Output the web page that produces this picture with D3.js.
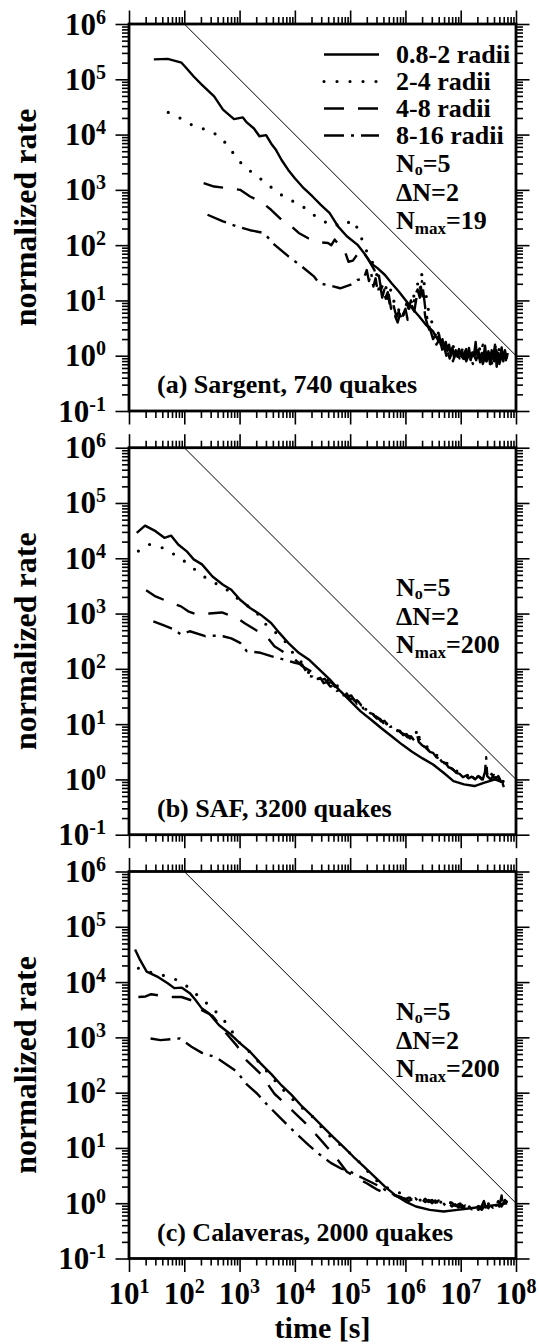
<!DOCTYPE html>
<html><head><meta charset="utf-8">
<script src="https://cdn.jsdelivr.net/npm/d3@7"></script>
<style>
body{margin:0;background:#fff}
svg{display:block}
text{font-family:"Liberation Serif","Times New Roman",Times,serif;font-weight:bold;fill:#000}
</style>
</head><body>
<svg id="chart" width="539" height="1344" font-family="Liberation Serif" font-weight="bold"></svg>
<script>
// ---------- DATA ----------
// each series point: [log10(time in s), log10(normalized rate)]
const timeExponents = [1,2,3,4,5,6,7,8];
const rateExponents = [-1,0,1,2,3,4,5,6];
const seriesNames = ["0.8-2 radii","2-4 radii","4-8 radii","8-16 radii"];
const panelTitles = ["(a) Sargent, 740 quakes","(b) SAF, 3200 quakes","(c) Calaveras, 2000 quakes"];
const paramN0 = [5,5,5];
const paramDN = [2,2,2];
const paramNmax = [19,200,200];
const referenceLine = [[1e2,1e6],[1e8,1e0]]; // rate ~ 1/t guide

// (a) Sargent
const sargent_08_2 = [[1.45,5.36],[1.70,5.37],[1.95,5.30],[2.04,5.20],[2.17,5.05],[2.32,4.90],[2.54,4.69],[2.70,4.45],[2.90,4.28],[3.06,4.31],[3.13,4.22],[3.26,4.11],[3.36,3.97],[3.48,3.99],[3.57,3.84],[3.66,3.72],[3.76,3.54],[3.88,3.36],[4.00,3.21],[4.16,3.03],[4.32,2.88],[4.47,2.73],[4.63,2.58],[4.78,2.34],[4.94,2.16],[5.13,2.01],[5.25,1.86],[5.38,1.67],[5.50,1.58],[5.63,1.46],[5.75,1.31],[5.88,1.16],[6.00,1.01],[6.12,0.86],[6.25,0.71],[6.37,0.56],[6.50,0.44],
[6.54,0.36],[6.58,0.30],[6.61,0.38],[6.64,0.20],[6.67,0.30],[6.70,0.12],[6.73,0.25],[6.76,0.08],[6.79,0.20],[6.82,0.02],[6.85,0.15],[6.88,-0.04],[6.91,0.10],[6.94,-0.02],[6.97,0.12],[7.00,0.00],[7.03,0.08],[7.06,-0.06],[7.09,0.10],[7.12,-0.02],[7.15,0.14],[7.18,-0.08],[7.21,0.06],[7.24,0.00],[7.27,0.25],[7.29,0.02],[7.32,0.10],[7.35,-0.12],[7.38,0.05],[7.41,-0.05],[7.44,0.18],[7.47,-0.10],[7.50,0.08],[7.53,-0.15],[7.56,0.10],[7.59,-0.05],[7.62,0.20],[7.65,-0.20],[7.68,0.05],[7.71,-0.08],[7.74,0.15],[7.77,-0.10],[7.80,0.10],[7.83,-0.05],[7.85,0.05]];
const sargent_2_4 = [[1.71,4.40],[1.96,4.28],[2.21,4.13],[2.46,4.08],[2.68,3.93],[2.85,3.71],[3.03,3.48],[3.24,3.30],[3.46,3.14],[3.64,2.99],[3.87,2.83],[4.08,2.75],[4.29,2.58],[4.49,2.45],[4.70,2.34],[4.80,2.38],[4.88,2.43],[4.96,2.40],[5.02,2.46],[5.10,2.35],[5.16,2.28],[5.25,1.98],[5.35,1.80],[5.44,1.61],
[5.50,1.40],[5.56,1.25],[5.62,1.35],[5.68,1.10],[5.74,1.20],[5.80,0.95],[5.86,0.80],[5.92,0.90],[5.98,0.70],[6.04,0.80],[6.10,0.95],[6.16,1.10],[6.22,1.30],[6.26,1.15],[6.30,1.50],[6.34,1.30],[6.38,1.05],[6.42,0.80],[6.48,0.60],[6.54,0.50],[6.60,0.40],[6.66,0.20],[6.72,0.30],[6.78,0.15],[6.84,0.25],[6.90,0.05],[6.96,0.12],[7.02,-0.05],[7.08,0.10],[7.14,0.00],[7.20,0.15],[7.26,-0.02],[7.32,0.08],[7.38,0.20],[7.44,0.00],[7.50,0.10],[7.56,-0.10],[7.62,0.05],[7.68,0.15],[7.74,-0.05],[7.80,0.10],[7.84,0.00]];
const sargent_4_8 = [[2.35,3.12],[2.54,3.06],[2.80,3.03],[3.01,3.00],[3.19,2.88],[3.38,2.79],[3.57,2.64],[3.76,2.46],[3.94,2.34],[4.07,2.22],[4.25,2.12],[4.44,2.05],[4.60,2.04],[4.66,2.00],[4.72,2.10],[4.82,1.98],[4.90,1.90],[4.97,1.70],[5.05,1.72],[5.13,1.83],[5.19,1.93],[5.31,1.77],[5.44,1.55],
[5.48,1.35],[5.52,1.45],[5.56,1.20],[5.60,1.30],[5.64,1.05],[5.68,1.15],[5.72,0.90],[5.76,1.00],[5.80,0.85],[5.84,0.70],[5.88,0.80],[5.92,0.60],[5.96,0.75],[6.00,0.85],[6.04,0.65],[6.08,0.75],[6.12,0.90],[6.16,0.80],[6.20,1.05],[6.24,0.95],[6.28,1.25],[6.32,1.00],[6.36,0.70],[6.40,0.55],[6.44,0.45],[6.50,0.35],[6.56,0.20],[6.62,0.30],[6.68,0.05],[6.74,0.15],[6.80,-0.05],[6.86,0.10],[6.92,-0.10],[6.98,0.05],[7.04,-0.05],[7.10,0.12],[7.16,-0.12],[7.22,0.05],[7.28,-0.08],[7.34,0.10],[7.40,-0.15],[7.46,0.05],[7.52,-0.20],[7.58,0.00],[7.64,0.20],[7.70,-0.15],[7.76,0.05],[7.82,-0.10]];
const sargent_8_16 = [[2.42,2.55],[2.70,2.43],[2.95,2.34],[3.19,2.27],[3.44,2.22],[3.63,2.01],[3.88,1.80],[4.13,1.61],[4.35,1.43],[4.44,1.31],[4.63,1.27],[4.82,1.22],[5.00,1.28],[5.13,1.37],[5.25,1.40],
[5.30,1.55],[5.34,1.35],[5.38,1.50],[5.42,1.25],[5.46,1.40],[5.50,1.15],[5.54,1.30],[5.58,1.05],[5.62,1.20],[5.66,0.95],[5.70,1.10],[5.74,0.85],[5.78,0.95],[5.82,0.70],[5.86,0.60],[5.90,0.75],[5.94,0.65],[5.98,0.80],[6.02,0.95],[6.06,0.85],[6.10,1.00],[6.14,0.90],[6.18,1.10],[6.22,1.20],[6.26,1.05],[6.30,1.35],[6.33,1.10],[6.36,0.85],[6.40,0.65],[6.44,0.50],[6.50,0.30],[6.56,0.40],[6.62,0.15],[6.68,0.25],[6.74,0.00],[6.80,0.12],[6.86,-0.10],[6.92,0.08],[6.98,-0.05],[7.04,0.15],[7.10,-0.10],[7.16,0.05],[7.22,-0.15],[7.28,0.10],[7.34,-0.05],[7.40,0.20],[7.46,-0.10],[7.52,0.05],[7.58,-0.20],[7.64,0.10],[7.70,-0.05],[7.76,0.15],[7.82,-0.10]];

// (b) SAF
const saf_08_2 = [[1.14,4.46],[1.29,4.59],[1.48,4.49],[1.64,4.37],[1.76,4.41],[1.89,4.25],[2.04,4.13],[2.17,3.98],[2.32,3.89],[2.51,3.67],[2.70,3.52],[2.85,3.43],[3.01,3.25],[3.19,3.10],[3.38,2.98],[3.57,2.83],[3.72,2.65],[3.88,2.47],[4.07,2.29],[4.25,2.17],[4.44,1.99],[4.63,1.81],[4.82,1.60],[5.00,1.42],[5.19,1.23],[5.38,1.08],[5.56,0.93],[5.75,0.78],[5.94,0.63],[6.12,0.50],[6.31,0.38],[6.50,0.27],[6.69,0.12],[6.87,-0.03],[7.06,-0.09],[7.25,-0.12],[7.43,-0.06],[7.55,-0.02],[7.62,0.00],[7.70,-0.03],[7.78,-0.06]];
const saf_2_4 = [[1.17,4.13],[1.37,4.25],[1.60,4.19],[1.82,4.07],[2.04,3.92],[2.26,3.74],[2.48,3.58],[2.70,3.49],[2.88,3.34],[3.07,3.19],[3.29,3.04],[3.48,2.80],[3.66,2.65],[3.85,2.47],[4.00,2.23],[4.13,2.11],[4.25,1.93],[4.38,1.80],
[4.50,1.86],[4.56,1.78],[4.62,1.80],[4.68,1.72],[4.74,1.74],[4.80,1.64],[4.86,1.62],[4.92,1.55],[4.98,1.54],[5.04,1.46],[5.10,1.45],[5.16,1.38],[5.22,1.36],[5.28,1.27],[5.34,1.25],[5.40,1.18],[5.46,1.14],[5.52,1.08],[5.58,1.06],[5.64,1.02],[5.70,0.98],[5.76,0.94],[5.82,0.92],[5.88,0.86],[5.94,0.84],[6.00,0.79],[6.06,0.78],[6.12,0.72],[6.18,0.80],[6.22,0.92],[6.26,0.70],[6.32,0.64],[6.38,0.60],[6.44,0.54],[6.50,0.50],[6.56,0.44],[6.62,0.40],[6.68,0.34],[6.74,0.30],[6.80,0.24],[6.86,0.22],[6.92,0.15],[6.98,0.14],[7.04,0.08],[7.10,0.10],[7.16,0.03],[7.22,0.06],[7.28,0.02],[7.34,0.08],[7.40,0.04],[7.46,0.12],[7.52,0.05],[7.58,0.10],[7.64,0.02],[7.70,0.08],[7.76,-0.02],[7.80,-0.10]];
const saf_4_8 = [[1.31,3.42],[1.48,3.31],[1.70,3.22],[1.94,3.13],[2.07,3.04],[2.23,2.98],[2.45,3.00],[2.68,3.02],[2.79,2.98],[2.91,2.95],[3.10,2.82],[3.33,2.68],[3.51,2.56],[3.63,2.41],[3.80,2.30],[4.00,2.17],[4.13,2.05],[4.30,1.95],[4.42,1.86],
[4.48,1.80],[4.54,1.82],[4.60,1.74],[4.66,1.76],[4.72,1.68],[4.78,1.66],[4.84,1.60],[4.90,1.58],[4.96,1.50],[5.02,1.52],[5.08,1.42],[5.14,1.42],[5.20,1.34],[5.26,1.32],[5.32,1.24],[5.38,1.22],[5.44,1.14],[5.50,1.12],[5.56,1.05],[5.62,1.06],[5.68,0.98],[5.74,0.97],[5.80,0.90],[5.86,0.90],[5.92,0.84],[5.98,0.82],[6.04,0.76],[6.10,0.78],[6.16,0.70],[6.20,0.86],[6.24,0.68],[6.30,0.62],[6.36,0.58],[6.42,0.52],[6.48,0.48],[6.54,0.42],[6.60,0.40],[6.66,0.32],[6.72,0.30],[6.78,0.22],[6.84,0.20],[6.90,0.14],[6.96,0.12],[7.02,0.06],[7.08,0.08],[7.14,0.02],[7.20,0.05],[7.26,0.00],[7.32,0.06],[7.38,0.00],[7.44,0.08],[7.50,0.02],[7.56,0.10],[7.62,0.00],[7.68,0.06],[7.74,-0.06],[7.78,-0.12]];
const saf_8_16 = [[1.44,2.86],[1.62,2.79],[1.82,2.71],[1.94,2.62],[2.10,2.68],[2.38,2.59],[2.55,2.60],[2.70,2.59],[2.85,2.55],[3.01,2.47],[3.13,2.32],[3.38,2.29],[3.57,2.23],[3.79,2.17],[4.00,2.11],[4.13,2.08],[4.25,1.87],
[4.32,1.86],[4.40,1.80],[4.46,1.84],[4.52,1.74],[4.58,1.76],[4.64,1.68],[4.70,1.70],[4.76,1.60],[4.82,1.62],[4.88,1.52],[4.94,1.54],[5.00,1.45],[5.06,1.46],[5.12,1.37],[5.18,1.38],[5.24,1.28],[5.30,1.28],[5.36,1.20],[5.42,1.18],[5.48,1.10],[5.54,1.10],[5.60,1.02],[5.66,1.03],[5.72,0.95],[5.78,0.96],[5.84,0.88],[5.90,0.88],[5.96,0.80],[6.02,0.82],[6.08,0.74],[6.14,0.76],[6.20,0.70],[6.26,0.72],[6.32,0.60],[6.38,0.58],[6.44,0.50],[6.50,0.48],[6.56,0.40],[6.62,0.38],[6.68,0.30],[6.74,0.28],[6.80,0.20],[6.86,0.18],[6.92,0.12],[6.98,0.10],[7.04,0.04],[7.10,0.07],[7.16,0.00],[7.22,0.04],[7.28,-0.02],[7.34,0.05],[7.40,0.00],[7.44,0.14],[7.46,0.40],[7.48,0.06],[7.54,0.00],[7.60,0.08],[7.66,-0.02],[7.72,0.04],[7.78,-0.14]];

// (c) Calaveras
const cal_08_2 = [[1.11,4.59],[1.20,4.40],[1.32,4.19],[1.51,4.10],[1.70,3.98],[1.82,3.89],[1.95,3.90],[2.10,3.80],[2.20,3.68],[2.32,3.52],[2.45,3.43],[2.63,3.22],[2.82,3.07],[3.01,2.89],[3.19,2.74],[3.38,2.53],[3.57,2.34],[3.76,2.13],[3.94,1.96],[4.13,1.75],[4.32,1.57],[4.50,1.39],[4.69,1.20],[4.88,1.02],[5.06,0.84],[5.25,0.66],[5.44,0.48],[5.63,0.30],[5.81,0.15],[6.00,0.03],[6.19,-0.06],[6.44,-0.12],[6.69,-0.15],[6.94,-0.12],[7.18,-0.09],[7.43,-0.06],[7.65,-0.03],[7.84,0.00]];
const cal_2_4 = [[1.17,4.25],[1.45,4.16],[1.67,4.11],[1.89,4.03],[2.10,3.89],[2.29,3.71],[2.50,3.54],[2.76,3.26],[3.01,2.89],[3.23,2.69],[3.41,2.48],[3.57,2.30],[3.76,2.08],[3.97,1.87],[4.16,1.70],[4.35,1.54],[4.54,1.30],[4.72,1.14],[4.94,0.96],[5.16,0.75],[5.38,0.51],[5.56,0.33],[5.78,0.23],[6.00,0.15],
[6.05,0.08],[6.10,0.10],[6.15,0.05],[6.20,0.08],[6.25,0.04],[6.30,0.09],[6.35,0.05],[6.40,0.08],[6.45,0.04],[6.50,0.07],[6.55,0.03],[6.60,0.06],[6.65,0.01],[6.70,0.05],[6.75,0.00],[6.80,0.03],[6.85,-0.03],[6.90,0.01],[6.95,-0.04],[7.00,0.00],[7.05,-0.06],[7.10,-0.02],[7.15,-0.07],[7.20,-0.03],[7.25,-0.08],[7.30,-0.04],[7.35,-0.08],[7.40,-0.03],[7.45,-0.07],[7.50,-0.01],[7.55,-0.06],[7.60,0.02],[7.65,-0.05],[7.70,0.06],[7.75,-0.04],[7.80,0.10],[7.84,-0.02]];
const cal_4_8 = [[1.17,3.73],[1.30,3.74],[1.40,3.78],[1.60,3.75],[1.79,3.73],[1.95,3.73],[2.13,3.67],[2.30,3.50],[2.51,3.39],[2.76,3.07],[2.95,2.85],[3.13,2.58],[3.38,2.34],[3.63,1.98],[3.94,1.69],[4.25,1.39],[4.50,1.11],[4.75,0.82],[4.94,0.57],[5.19,0.42],
[5.30,0.36],[5.40,0.30],[5.50,0.24],[5.60,0.20],[5.70,0.17],[5.80,0.14],[5.90,0.10],[6.00,0.08],[6.06,0.04],[6.12,0.07],[6.18,0.02],[6.24,0.06],[6.30,0.03],[6.36,0.08],[6.42,0.02],[6.48,0.06],[6.54,0.01],[6.60,0.05],[6.66,-0.01],[6.72,0.03],[6.78,-0.03],[6.84,0.01],[6.90,-0.05],[6.96,-0.02],[7.02,-0.08],[7.08,-0.04],[7.14,-0.09],[7.20,-0.05],[7.26,-0.10],[7.32,-0.05],[7.38,-0.12],[7.44,-0.04],[7.50,-0.09],[7.56,0.00],[7.62,-0.08],[7.68,0.04],[7.74,-0.06],[7.80,0.06],[7.84,-0.04]];
const cal_8_16 = [[1.39,2.98],[1.57,2.95],[1.80,2.97],[1.92,2.98],[2.13,2.83],[2.32,2.72],[2.57,2.64],[2.75,2.52],[2.95,2.38],[3.13,2.15],[3.32,1.98],[3.50,1.78],[3.70,1.58],[3.88,1.40],[4.07,1.22],[4.25,1.05],[4.45,0.88],[4.65,0.73],[4.85,0.62],[4.95,0.60],[5.10,0.52],[5.30,0.42],[5.50,0.32],
[5.60,0.26],[5.70,0.20],[5.80,0.15],[5.90,0.12],[6.00,0.07],[6.06,0.10],[6.12,0.04],[6.18,0.09],[6.24,0.03],[6.30,0.07],[6.36,0.02],[6.42,0.06],[6.48,0.00],[6.54,0.05],[6.60,-0.01],[6.66,0.03],[6.72,-0.04],[6.78,0.01],[6.84,-0.06],[6.90,-0.02],[6.96,-0.08],[7.02,-0.03],[7.08,-0.10],[7.14,-0.05],[7.20,-0.11],[7.26,-0.06],[7.32,-0.12],[7.38,-0.05],[7.42,0.04],[7.46,-0.10],[7.52,-0.03],[7.58,-0.08],[7.64,0.00],[7.70,-0.06],[7.74,0.14],[7.76,-0.02],[7.82,0.04],[7.85,-0.06]];

// ---------- LAYOUT ----------
const plotLeft = 129, plotSize = 387;
const panelTops = [24, 447.7, 871.5];
const styles = [
  {width:2.4, dash:null, cap:"butt"},
  {width:3.2, dash:"0,13", cap:"round"},
  {width:2.4, dash:"20,14", cap:"butt"},
  {width:2.4, dash:"20,7,3,7", cap:"butt"}
];
const panels = [
  {title:panelTitles[0], series:[sargent_08_2,sargent_2_4,sargent_4_8,sargent_8_16], legend:true},
  {title:panelTitles[1], series:[saf_08_2,saf_2_4,saf_4_8,saf_8_16], legend:false},
  {title:panelTitles[2], series:[cal_08_2,cal_2_4,cal_4_8,cal_8_16], legend:false}
];

const svg = d3.select("#chart");
const x = d3.scaleLog().domain([1e1,1e8]).range([plotLeft, plotLeft+plotSize]);
const majorX = timeExponents.map(e => Math.pow(10,e));
const minorX = [];
timeExponents.slice(0,-1).forEach(e => { for (let k=2;k<=9;k++) minorX.push(k*Math.pow(10,e)); });
const majorY = rateExponents.map(e => Math.pow(10,e));
const minorY = [];
rateExponents.slice(0,-1).forEach(e => { for (let k=2;k<=9;k++) minorY.push(k*Math.pow(10,e)); });

function styleAxis(g){
  g.select(".domain").remove();
  g.selectAll(".tick line").attr("stroke","#000").attr("stroke-width",1.6);
  g.selectAll(".tick text").remove();
}

function pow10Label(sel, e, supSize, supDy){
  sel.append("tspan").text("10");
  sel.append("tspan").attr("font-size", supSize).attr("dy", -supDy).text(String(e));
}

panels.forEach((p, i) => {
  const top = panelTops[i];
  const y = d3.scaleLog().domain([1e-1,1e6]).range([top+plotSize, top]);
  const g = svg.append("g");
  const clipId = "clip"+i;
  svg.append("clipPath").attr("id", clipId).append("rect")
    .attr("x", plotLeft).attr("y", top).attr("width", plotSize).attr("height", plotSize);

  // axes (ticks outward on all four sides)
  const sides = [
    [d3.axisBottom(x), `translate(0,${top+plotSize})`, majorX, minorX],
    [d3.axisTop(x), `translate(0,${top})`, majorX, minorX],
    [d3.axisLeft(y), `translate(${plotLeft},0)`, majorY, minorY],
    [d3.axisRight(y), `translate(${plotLeft+plotSize},0)`, majorY, minorY]
  ];
  sides.forEach(([ax, tr, maj, min]) => {
    g.append("g").attr("transform", tr)
      .call(ax.tickValues(min).tickSize(7).tickFormat(() => "")).call(styleAxis);
    g.append("g").attr("transform", tr)
      .call(ax.tickValues(maj).tickSize(13.5).tickFormat(() => "")).call(styleAxis);
  });

  // y tick labels
  rateExponents.forEach(e => {
    const t = g.append("text").attr("x", 106).attr("y", y(Math.pow(10,e)) + 10.5)
      .attr("text-anchor","end").attr("font-size", 31);
    pow10Label(t, e, 20, 11);
  });

  // data lines
  const line = d3.line().x(d => x(Math.pow(10,d[0]))).y(d => y(Math.pow(10,d[1])));
  const dg = g.append("g").attr("clip-path", `url(#${clipId})`);
  // reference 1/t line
  dg.append("path").datum(referenceLine)
    .attr("d", d3.line().x(d => x(d[0])).y(d => y(d[1])))
    .attr("fill","none").attr("stroke","#000").attr("stroke-width",1);
  p.series.forEach((s, k) => {
    const st = styles[k];
    dg.append("path").datum(s).attr("d", line)
      .attr("fill","none").attr("stroke","#000")
      .attr("stroke-width", st.width)
      .attr("stroke-linecap", st.cap)
      .attr("stroke-linejoin","round")
      .attr("stroke-dasharray", st.dash);
  });

  // frame
  g.append("rect").attr("x", plotLeft).attr("y", top).attr("width", plotSize).attr("height", plotSize)
    .attr("fill","none").attr("stroke","#000").attr("stroke-width",2.8);

  // panel title
  g.append("text").attr("x", 157).attr("y", top + plotSize - 18).attr("font-size", 26).text(p.title);

  // y axis title
  g.append("text").attr("transform", `translate(36,${top + plotSize/2}) rotate(-90)`)
    .attr("text-anchor","middle").attr("font-size", 32).text("normalized rate");

  // legend + parameters
  const tx = 396;
  if (p.legend) {
    seriesNames.forEach((name, k) => {
      const by = top + 39 + k*27;
      const st = styles[k];
      g.append("line").attr("x1", 324).attr("x2", 379).attr("y1", by - 8.5).attr("y2", by - 8.5)
        .attr("stroke","#000").attr("stroke-width", st.width).attr("stroke-linecap", st.cap)
        .attr("stroke-dasharray", st.dash);
      g.append("text").attr("x", tx).attr("y", by).attr("font-size", 26).text(name);
    });
  }
  const t1 = g.append("text").attr("x", tx).attr("y", top + 148).attr("font-size", 26);
  t1.append("tspan").text("N");
  t1.append("tspan").attr("font-size",16).attr("dy",3).text("o");
  t1.append("tspan").attr("dy",-3).text("=" + paramN0[i]);
  g.append("text").attr("x", tx).attr("y", top + 177).attr("font-size", 26).text("\u0394N=" + paramDN[i]);
  const t3 = g.append("text").attr("x", tx).attr("y", top + 205).attr("font-size", 26);
  t3.append("tspan").text("N");
  t3.append("tspan").attr("font-size",17).attr("dy",5).text("max");
  t3.append("tspan").attr("dy",-5).text("=" + paramNmax[i]);
});

// x tick labels & title (bottom panel only)
const bottom = panelTops[2] + plotSize;
timeExponents.forEach(e => {
  const t = svg.append("text").attr("x", x(Math.pow(10,e))).attr("y", bottom + 45)
    .attr("text-anchor","middle").attr("font-size", 31);
  pow10Label(t, e, 20, 11);
});
svg.append("text").attr("x", plotLeft + plotSize/2).attr("y", 1337.5)
  .attr("text-anchor","middle").attr("font-size", 30).text("time [s]");
</script>
</body></html>
